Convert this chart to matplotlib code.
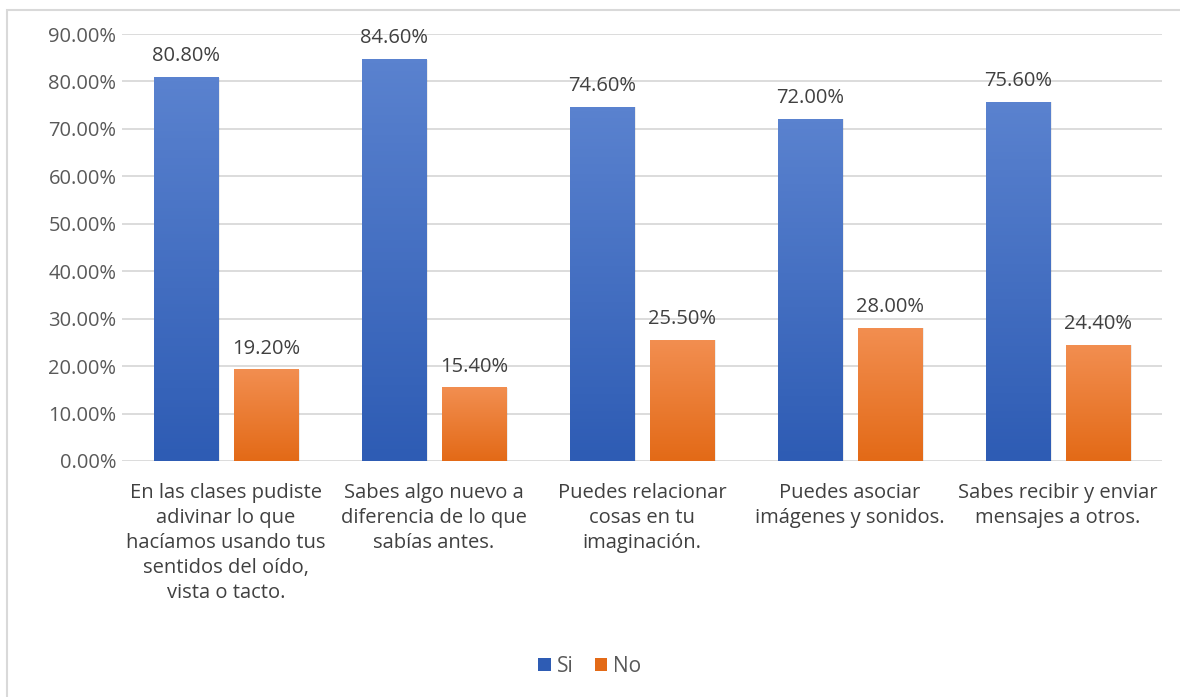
import numpy as np
import matplotlib.pyplot as plt
from matplotlib.patches import Rectangle, Patch
from matplotlib.ticker import FuncFormatter
from matplotlib.colors import LinearSegmentedColormap

plt.rcParams['font.family'] = ['Open Sans', 'DejaVu Sans']

categorias = [
    "En las clases pudiste\nadivinar lo que\nhacíamos usando tus\nsentidos del oído,\nvista o tacto.",
    "Sabes algo nuevo a\ndiferencia de lo que\nsabías antes.",
    "Puedes relacionar\ncosas en tu\nimaginación.",
    "Puedes asociar\nimágenes y sonidos.",
    "Sabes recibir y enviar\nmensajes a otros.",
]
si = [80.80, 84.60, 74.60, 72.00, 75.60]
no = [19.20, 15.40, 25.50, 28.00, 24.40]
series = [("Si", si, "#5A82CF", "#2E5CB4"), ("No", no, "#F28E50", "#E36A17")]

fig = plt.figure(figsize=(11.8, 6.97), dpi=100)
fig.patch.set_facecolor("white")

# light frame around the chart
frame = Rectangle((7 / 1180, -0.01), 1.2, 1 - 10 / 697 + 0.01, transform=fig.transFigure,
                  fill=False, edgecolor="#D9D9D9", linewidth=1.5)
fig.patches.append(frame)

ax = fig.add_axes([122 / 1180, 1 - 461 / 697, 1040 / 1180, (461 - 34) / 697])
ax.set_yticks(np.arange(0, 91, 10))
ax.yaxis.set_major_formatter(FuncFormatter(lambda v, p: f"{v:.2f}%"))
ax.grid(axis="y", color="#D9D9D9", linewidth=1.3)
ax.set_axisbelow(True)
for s in ax.spines.values():
    s.set_visible(False)
ax.tick_params(axis="y", length=0, labelsize=14.5, labelcolor="#595959", pad=4)
ax.set_xticks([])

x = np.arange(len(categorias)) + 0.5
ancho = 0.308
desp = 0.192
grad = np.linspace(0, 1, 100).reshape(-1, 1)
handles = []

for i, (nombre, vals, top, bottom) in enumerate(series):
    offs = -desp if i == 0 else desp
    cmap = LinearSegmentedColormap.from_list(nombre, [bottom, top])
    for xc, v in zip(x + offs, vals):
        x0 = xc - ancho / 2
        # soft shadow
        ax.add_patch(Rectangle((x0 + 0.006, 0), ancho + 0.004, v, facecolor="#000000",
                               alpha=0.07, linewidth=0, zorder=2))
        ax.imshow(grad, extent=(x0, x0 + ancho, 0, v), origin="lower", cmap=cmap,
                  aspect="auto", zorder=3)
        ax.text(xc, v + 2.4, f"{v:.2f}%", ha="center", va="bottom", fontsize=14.5,
                color="#404040", zorder=4)
    handles.append(Patch(facecolor=bottom, label=nombre))

ax.set_xlim(0, 5)
ax.set_ylim(0, 90)

for xc, lab in zip(x, categorias):
    ax.text(xc, -4.6, lab, ha="center", va="top", fontsize=14.5, color="#404040",
            linespacing=1.34)

ax.legend(handles=handles, loc="center", bbox_to_anchor=(0.5, (697 - 666) / 697),
          bbox_transform=fig.transFigure, ncol=2, frameon=False, fontsize=15,
          handlelength=0.6, handleheight=0.6, handletextpad=0.3, columnspacing=1.0,
          labelcolor="#595959")

fig.savefig("out.png", dpi=100)
